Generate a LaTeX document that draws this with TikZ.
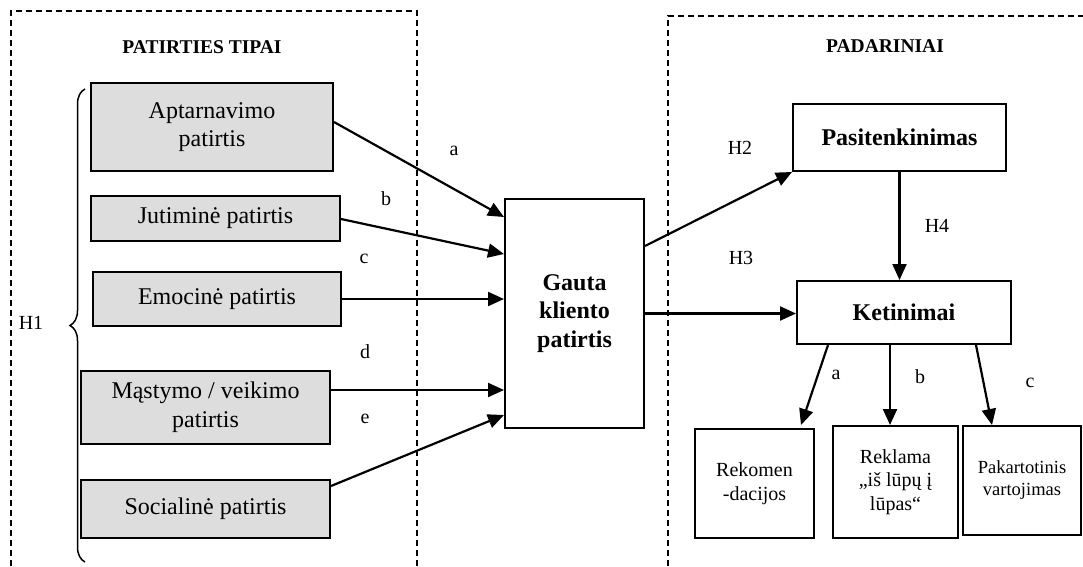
\documentclass[tikz,border=0pt]{standalone}
\usepackage{fontspec}
\setmainfont{Liberation Serif}
\usetikzlibrary{arrows.meta,calc,decorations.pathreplacing}
\definecolor{boxgray}{RGB}{221,221,221}
\begin{document}
\begin{tikzpicture}[x=1pt,y=-1pt,
  gbox/.style={draw, line width=2pt, fill=boxgray, align=center, inner sep=0pt,
    font=\fontsize{24}{28.5}\selectfont},
  wbox/.style={draw, line width=2pt, fill=white, align=center, inner sep=0pt,
    font=\fontsize{24}{28.5}\selectfont\bfseries},
  sbox/.style={draw, line width=2pt, fill=white, align=center, inner sep=0pt,
    font=\fontsize{20}{23.5}\selectfont},
  lbl/.style={inner sep=0pt, font=\fontsize{20}{24}\selectfont},
  ttl/.style={inner sep=0pt, font=\fontsize{19.5}{23}\selectfont\bfseries},
  arr/.style={-{Triangle[length=16pt,width=14pt]}, line width=2.2pt},
  dsh/.style={line width=1.4pt, dash pattern=on 6pt off 4pt}]
\useasboundingbox (0,0) rectangle (1083,566);

% dashed frames
\draw[dsh] (11,566) -- (11,11) -- (417,11) -- (417,566);
\draw[dsh] (668,566) -- (668,16) -- (1083,16);

% titles
\node[ttl] (t1) at (202,47) {PATIRTIES TIPAI};
\node[ttl] (t2) at (885,46) {PADARINIAI};

% left boxes
\node[gbox, minimum width=242pt, minimum height=88pt] (apt) at (212,127) {Aptarnavimo\\patirtis};
\node[gbox, minimum width=249pt, minimum height=45pt] (jut) at (215.5,218.5) {Jutiminė patirtis};
\node[gbox, minimum width=248pt, minimum height=54pt] (emo) at (217,299) {Emocinė patirtis};
\node[gbox, minimum width=249pt, minimum height=73pt] (mas) at (205.5,407) {Mąstymo / veikimo\\patirtis};
\node[gbox, minimum width=249pt, minimum height=58pt] (soc) at (205.5,509) {Socialinė patirtis};

% brace and H1
\draw[decorate, decoration={brace, amplitude=15pt}, line width=1.5pt] (85,562) -- (85,89);
\node[lbl] (h1) at (31,323) {H1};

% central box
\node[wbox, minimum width=139pt, minimum height=229pt] (gauta) at (574.5,313.5) {Gauta\\klien\-to\\patirtis};

% right boxes
\node[wbox, minimum width=213pt, minimum height=67pt] (pas) at (899.5,137.5) {Pasitenkinimas};
\node[wbox, minimum width=214pt, minimum height=63pt] (ket) at (904,312.5) {Ketinimai};

\node[sbox, minimum width=119pt, minimum height=109pt] (rek) at (754.5,483.5) {Rekomen\\-dacijos};
\node[sbox, minimum width=125pt, minimum height=112pt] (rkl) at (895.5,482) {Reklama\\„iš lūpų į\\lūpas“};
\node[sbox, minimum width=118pt, minimum height=109pt, font=\fontsize{18.5}{22}\selectfont] (pak) at (1022,480.5) {Pakartotinis\\vartojimas};

% coordinates for connector ends
\coordinate (aS) at ($(apt.east)+(0,-5)$);
\coordinate (aT) at ($(gauta.north west)+(0,19)$);
\coordinate (bS) at ($(jut.east)+(0,0.5)$);
\coordinate (bT) at ($(gauta.north west)+(0,56)$);
\coordinate (dS) at ($(mas.east)+(0,-17)$);
\coordinate (eS) at ($(soc.north east)+(0,7)$);
\coordinate (eT) at ($(gauta.north west)+(0,217)$);
\coordinate (gP) at ($(gauta.north east)+(0,48)$);
\coordinate (k1) at ($(ket.south west)+(32,0)$);
\coordinate (k1T) at ($(rek.north east)+(-14,-3)$);
\coordinate (k2) at ($(ket.south)+(-14,0)$);
\coordinate (k3) at ($(ket.south west)+(180,0)$);
\coordinate (k3T) at ($(pak.north west)+(30,0)$);

% arrows into central box
\draw[arr] (aS) -- (aT);
\draw[arr] (bS) -- (bT);
\draw[arr] (emo.east) -- (gauta.west |- emo.east);
\draw[arr] (dS) -- (gauta.west |- dS);
\draw[arr] (eS) -- (eT);

% arrows to outcomes
\draw[arr] (gP) -- (pas.south west);
\draw[arr] (gauta.east) -- (gauta.east -| ket.west);
\draw[arr] (pas.south) -- (pas.south |- ket.north);
\draw[arr] (k1) -- (k1T);
\draw[arr] (k2) -- (k2 |- rkl.north);
\draw[arr] (k3) -- (k3T);

% labels
\node[lbl] (la) at (454,151) {a};
\node[lbl] (lb) at (386,199) {b};
\node[lbl] (lc) at (364,259) {c};
\node[lbl] (ld) at (365,352) {d};
\node[lbl] (le) at (365,419) {e};
\node[lbl] (h2) at (740,148) {H2};
\node[lbl] (h3) at (741,258) {H3};
\node[lbl] (h4) at (937,226) {H4};
\node[lbl] (ka) at (836,375) {a};
\node[lbl] (kb) at (920,377) {b};
\node[lbl] (kc) at (1030,383) {c};
\end{tikzpicture}
\end{document}
